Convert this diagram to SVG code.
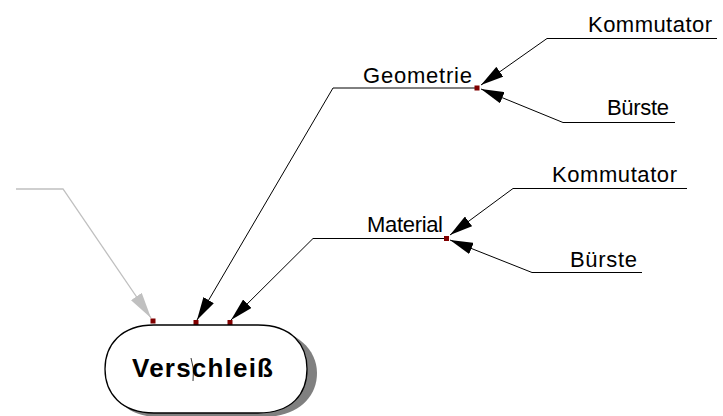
<svg xmlns="http://www.w3.org/2000/svg" width="723" height="416" viewBox="0 0 723 416">
  <style>
    .lbl { font-family: "Liberation Sans", Arial, sans-serif; font-size: 22px; fill: #000; }
    .title { font-family: "Liberation Sans", Arial, sans-serif; font-size: 26px; font-weight: bold; fill: #000; }
    .edge { fill: none; stroke: #000; stroke-width: 1; }
    .edge-grey { fill: none; stroke: #c0c0c0; stroke-width: 1.3; }
    .port { fill: #800000; }
  </style>
  <defs>
    <marker id="arrow" markerUnits="userSpaceOnUse" viewBox="0 0 23 12" markerWidth="23" markerHeight="12" refX="23" refY="6" orient="auto">
      <path d="M0,0 L23,6 L0,12 Z" fill="#000"/>
    </marker>
    <marker id="arrow-grey" markerUnits="userSpaceOnUse" viewBox="0 0 26 13" markerWidth="26" markerHeight="13" refX="26" refY="6.5" orient="auto">
      <path d="M0,0 L26,6.5 L0,13 Z" fill="#c0c0c0"/>
    </marker>
  </defs>

  <!-- connectors -->
  <g id="connectors">
    <path class="edge-grey" d="M16,189 H63 L151,318" marker-end="url(#arrow-grey)"/>
    <path class="edge" d="M476,88 H333 L197,320" marker-end="url(#arrow)"/>
    <path class="edge" d="M446,238.5 H313 L231,320" marker-end="url(#arrow)"/>
    <path class="edge" d="M717,38.5 H547 L481,85" marker-end="url(#arrow)"/>
    <path class="edge" d="M675,122.5 H563 L481,89" marker-end="url(#arrow)"/>
    <path class="edge" d="M687,188.5 H513 L450,235" marker-end="url(#arrow)"/>
    <path class="edge" d="M642,272.5 H532 L450,240" marker-end="url(#arrow)"/>
  </g>

  <!-- connection points -->
  <g id="ports">
    <rect class="port" x="474.5" y="85.5" width="5" height="5"/>
    <rect class="port" x="444" y="236" width="5" height="5"/>
    <rect class="port" x="150.5" y="318.5" width="5" height="5"/>
    <rect class="port" x="193.5" y="320" width="5" height="5"/>
    <rect class="port" x="227.5" y="320" width="5" height="5"/>
  </g>

  <!-- cause labels -->
  <g id="geometrie">
    <text class="lbl" x="363" y="83" textLength="109" lengthAdjust="spacing">Geometrie</text>
  </g>
  <g id="kommutator-geometrie">
    <text class="lbl" x="588" y="32" textLength="124" lengthAdjust="spacing">Kommutator</text>
  </g>
  <g id="buerste-geometrie">
    <text class="lbl" x="607" y="115" textLength="62" lengthAdjust="spacing">Bürste</text>
  </g>
  <g id="material">
    <text class="lbl" x="367" y="232" textLength="76" lengthAdjust="spacing">Material</text>
  </g>
  <g id="kommutator-material">
    <text class="lbl" x="552" y="182" textLength="125" lengthAdjust="spacing">Kommutator</text>
  </g>
  <g id="buerste-material">
    <text class="lbl" x="570" y="267" textLength="67" lengthAdjust="spacing">Bürste</text>
  </g>

  <!-- effect node -->
  <g id="verschleiss">
    <path d="M159,329 H263 C297,329 317,350 317,373 C317,398 297,417 263,417 H159 C126,417 110,397 110,373 C110,350 126,329 159,329 Z" fill="#808080"/>
    <path d="M154,325 H258 C292,325 307,345 307,369 C307,394 292,413 258,413 H154 C121,413 105,393 105,369 C105,345 121,325 154,325 Z" fill="#fff" stroke="#000" stroke-width="1.3"/>
    <text class="title" x="132" y="377" textLength="141" lengthAdjust="spacing">Verschleiß</text>
    <path d="M191,358 Q195,369 193,381" fill="none" stroke="#000" stroke-width="0.8"/>
  </g>
</svg>
